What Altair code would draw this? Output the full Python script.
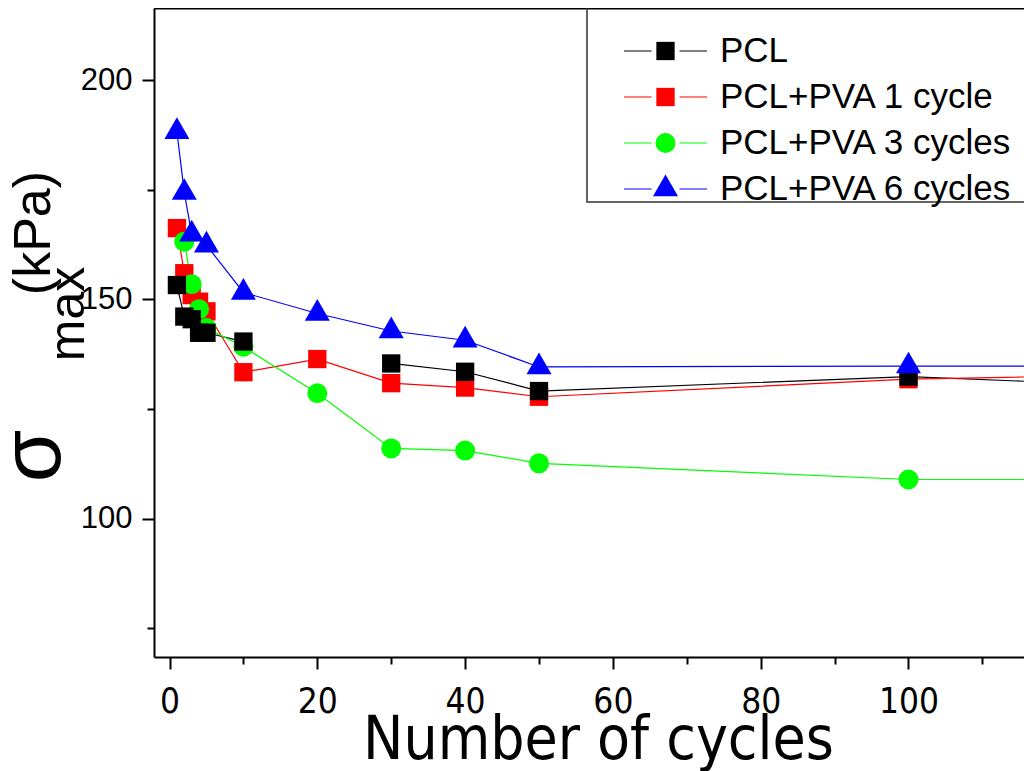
import altair as alt
import pandas as pd

CYCLES = [1, 2, 3, 4, 5, 10, 20, 30, 40, 50, 100, 150]
SERIES = ["PCL", "PCL+PVA 1 cycle", "PCL+PVA 3 cycles", "PCL+PVA 6 cycles"]
PCL = [153.3, 146.1, 145.5, 142.4, 142.4, 140.4, None, 135.4, 133.5, 129.1, 132.4, 129.0]
PVA1 = [166.3, 156.0, 151.0, 149.5, 147.3, 133.4, 136.4, 130.9, 129.9, 127.8, 131.8, 133.4]
PVA3 = [None, 163.2, 153.5, 147.8, 143.5, 139.2, 128.6, 116.0, 115.5, 112.6, 108.9, 108.9]
PVA6 = [188.3, 174.4, 164.9, None, 162.4, 151.6, 146.8, 142.8, 140.7, 134.6, 134.8, 134.8]
COLORS = ["#000000", "#ff0000", "#00ff00", "#0000ff"]
SHAPES = [
    "M-0.915,-0.915H0.915V0.915H-0.915Z",
    "M-0.915,-0.915H0.915V0.915H-0.915Z",
    "circle",
    "M0,-1.443L1.25,0.722L-1.25,0.722Z",
]
ZORDER = [2, 0, 1, 3]
X_TICKS = [0, 10, 20, 30, 40, 50, 60, 70, 80, 90, 100, 110]
Y_TICKS = [75, 100, 125, 150, 175, 200]
TITLE_PARTS = ["\u03c3", "max", "(kPa)"]

NARROW = "Liberation Sans Narrow, Arial Narrow, DejaVu Sans Condensed, Liberation Sans, sans-serif"
SANS = "Liberation Sans, Arial, sans-serif"

rows = []
for name, vals, z in zip(SERIES, [PCL, PVA1, PVA3, PVA6], ZORDER):
    for c, v in zip(CYCLES, vals):
        rows.append({"cycles": c, "sigma": v, "series": name, "series_line": name, "z": z})
df = pd.DataFrame(rows)
df["sigma"] = df["sigma"].astype(float)
dfp = df.dropna().sort_values("z")

xs = alt.Scale(domain=[-2.10, 115.63], nice=False, zero=False)
ys = alt.Scale(domain=[68.38, 216.55], nice=False, zero=False)

x_axis = alt.Axis(
    values=X_TICKS,
    labelExpr="datum.value % 20 == 0 ? datum.label : ''",
    tickSize={"condition": {"test": "datum.value % 20 == 0", "value": 12}, "value": 7},
    tickWidth=2, tickColor="black", domainWidth=2, domainColor="black",
    labelFont=NARROW, labelFontSize=35, labelColor="black",
    labelPadding=15, grid=False,
    title="Number of cycles", titleFont=NARROW, titleFontSize=60,
    titleFontWeight="normal", titleColor="black", titleX=444, titleY=101,
    titleBaseline="alphabetic",
)
y_axis = alt.Axis(
    values=Y_TICKS,
    labelExpr="datum.value % 50 == 0 ? datum.label : ''",
    tickSize={"condition": {"test": "datum.value % 50 == 0", "value": 12}, "value": 7},
    tickWidth=2, tickColor="black", domainWidth=2, domainColor="black",
    labelFont=SANS, labelFontSize=31, labelColor="black",
    labelPadding=10, grid=False, title=None,
)

common_legend = dict(
    orient="none", legendX=433, legendY=-1,
    title="\u00a0", titleFontSize=10, titlePadding=12.5,
    padding=4, rowPadding=10, labelFontSize=35, labelFont=SANS,
    labelLimit=600, symbolSize=400, symbolOffset=57, labelOffset=37,
    labelExpr="datum.label == 'PCL+PVA 1 cycle' ? '\u00a0' + datum.label : datum.label",
)

marker_legend = alt.Legend(
    **common_legend, labelColor="black", titleColor="rgba(0,0,0,0)",
    symbolStrokeWidth=0,
)
line_legend = alt.Legend(
    **common_legend, labelColor="rgba(0,0,0,0)", titleColor="rgba(0,0,0,0)",
    symbolType="M-4.15,0H-1.4M1.4,0H4.15", symbolStrokeWidth=1.2,
)

lines = alt.Chart(df).mark_line(
    strokeWidth=1.2, clip=True, invalid="break-paths-filter-domains"
).encode(
    x=alt.X("cycles:Q", scale=xs, axis=x_axis),
    y=alt.Y("sigma:Q", scale=ys, axis=y_axis),
    stroke=alt.Stroke("series_line:N", scale=alt.Scale(range=COLORS), legend=line_legend),
    detail="series:N",
)

points = alt.Chart(dfp).mark_point(
    filled=True, opacity=1, strokeWidth=0, size=400, clip=True
).encode(
    x=alt.X("cycles:Q", scale=xs, axis=x_axis),
    y=alt.Y("sigma:Q", scale=ys, axis=y_axis),
    fill=alt.Fill("series:N", scale=alt.Scale(domain=SERIES, range=COLORS), legend=marker_legend),
    shape=alt.Shape("series:N", scale=alt.Scale(domain=SERIES, range=SHAPES), legend=marker_legend),
    order=alt.Order("z:Q"),
)

top = alt.Chart(df).mark_point(opacity=0).encode(
    x=alt.X("cycles:Q", scale=xs, axis=alt.Axis(
        orient="top", domain=True, domainWidth=2, domainColor="black",
        ticks=False, labels=False, title=None, grid=False)),
)

legend_frame = alt.Chart(pd.DataFrame({"frame": ["legend"]})).mark_rect(
    filled=False, stroke="#333333", strokeWidth=1.5
).encode(x=alt.value(433), x2=alt.value(920), y=alt.value(-1), y2=alt.value(194))

title_pos = [(-94, 448, 85), (-70, 306, 50), (-104, 225, 52)]
title_layers = []
for part, (tx, ty, fs) in zip(TITLE_PARTS, title_pos):
    title_layers.append(
        alt.Chart(pd.DataFrame({"t": [part]})).mark_text(
            angle=270, align="center", baseline="alphabetic", font=SANS,
            fontSize=fs, color="black",
        ).encode(text="t:N", x=alt.value(tx), y=alt.value(ty))
    )

chart = alt.layer(
    alt.layer(lines, points), top, legend_frame, *title_layers
).resolve_scale(x="independent").properties(
    width=870, height=649,
    autosize=alt.AutoSizeParams(type="none"),
    padding={"left": 146, "top": 0, "right": 0, "bottom": 114},
).configure_view(stroke=None)

chart.save("out.html", embed_options={"renderer": "svg", "actions": False})
